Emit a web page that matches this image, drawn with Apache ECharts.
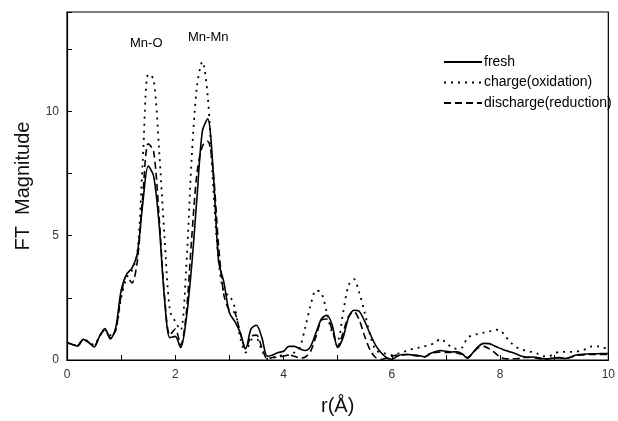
<!DOCTYPE html>
<html>
<head>
<meta charset="utf-8">
<script src="https://cdn.jsdelivr.net/npm/echarts@6/dist/echarts.min.js"></script>
<style>
html,body{margin:0;padding:0;background:#fff;}
#chart{width:618px;height:421px;}
</style>
</head>
<body>
<div id="chart"></div>
<script>
// r (Å) sample positions
var rValues = [0.0,0.1,0.2,0.3,0.4,0.5,0.6,0.7,0.8,0.9,
  1.0,1.1,1.2,1.3,1.4,1.5,1.6,1.7,1.8,1.9,
  2.0,2.1,2.2,2.3,2.4,2.5,2.6,2.7,2.8,2.9,
  3.0,3.1,3.2,3.3,3.4,3.5,3.6,3.7,3.8,3.9,
  4.0,4.1,4.2,4.3,4.4,4.5,4.6,4.7,4.8,4.9,
  5.0,5.1,5.2,5.3,5.4,5.5,5.6,5.7,5.8,5.9,
  6.0,6.1,6.2,6.3,6.4,6.5,6.6,6.7,6.8,6.9,
  7.0,7.1,7.2,7.3,7.4,7.5,7.6,7.7,7.8,7.9,
  8.0,8.1,8.2,8.3,8.4,8.5,8.6,8.7,8.8,8.9,
  9.0,9.1,9.2,9.3,9.4,9.5,9.6,9.7,9.8,9.9,10.0];

var fresh = [0.71,0.62,0.56,0.83,0.72,0.52,0.95,1.27,0.85,1.3,
  2.8,3.45,3.7,4.3,6.3,7.8,7.4,5.5,2.5,0.9,
  0.95,0.5,1.6,3.7,6.5,9.2,9.7,7.6,4.0,3.1,
  1.9,1.55,1.1,0.45,1.25,1.4,0.9,0.15,0.2,0.3,
  0.35,0.55,0.55,0.45,0.38,0.55,1.1,1.65,1.8,1.4,
  0.5,0.9,1.7,2.0,1.95,1.55,1.05,0.6,0.3,0.1,
  0.03,0.15,0.22,0.22,0.2,0.18,0.13,0.25,0.33,0.38,
  0.35,0.32,0.33,0.25,0.07,0.3,0.55,0.67,0.66,0.56,
  0.47,0.38,0.32,0.24,0.15,0.1,0.12,0.1,0.05,0.05,
  0.08,0.1,0.06,0.12,0.2,0.22,0.24,0.25,0.25,0.26,0.26];

var charge = [0.7,0.6,0.62,0.8,0.75,0.6,0.95,1.2,1.0,1.2,
  2.5,3.3,3.6,4.3,8.0,11.5,11.3,8.5,5.0,2.0,
  1.55,1.2,3.6,8.0,11.0,12.0,10.6,7.0,4.0,2.7,
  2.6,2.1,0.9,0.3,0.8,0.85,0.4,0.05,0.1,0.15,
  0.2,0.2,0.3,0.5,1.3,2.2,2.8,2.7,1.9,1.1,
  0.8,1.9,3.0,3.25,2.7,1.9,1.0,0.4,0.3,0.25,
  0.2,0.25,0.3,0.4,0.45,0.5,0.55,0.6,0.7,0.85,
  0.7,0.52,0.45,0.5,0.9,1.0,1.05,1.1,1.15,1.22,
  1.2,0.95,0.7,0.52,0.42,0.36,0.32,0.25,0.15,0.15,
  0.25,0.33,0.33,0.33,0.33,0.38,0.45,0.55,0.55,0.5,0.45];

var discharge = [0.7,0.62,0.6,0.82,0.7,0.55,0.95,1.2,0.9,1.2,
  2.6,3.4,3.1,4.0,6.6,8.7,8.4,5.8,2.6,1.0,
  1.25,0.6,1.8,4.8,7.5,8.6,8.8,7.6,4.6,2.6,
  2.0,1.9,1.1,0.45,0.95,1.0,0.5,0.05,0.1,0.12,
  0.15,0.2,0.15,0.08,0.12,0.35,0.95,1.6,1.65,1.2,
  0.55,1.1,1.75,1.95,1.6,0.95,0.4,0.1,0.02,0.08,
  0.15,0.2,0.2,0.22,0.18,0.15,0.12,0.22,0.3,0.32,
  0.3,0.3,0.28,0.22,0.1,0.3,0.5,0.55,0.45,0.3,
  0.12,0.05,0.05,0.05,0.08,0.12,0.1,0.06,0.03,0.05,
  0.08,0.08,0.06,0.1,0.18,0.2,0.22,0.22,0.22,0.22,0.22];

var seriesNames = ['fresh', 'charge(oxidation)', 'discharge(reduction)'];
var xTickLabels = ['0','2','4','6','8','10'];
var yTickLabels = ['0','5','10'];

function pairs(ys){ return rValues.map(function(x,i){ return [x, ys[i]]; }); }

var font = '"Liberation Sans", Arial, Helvetica, sans-serif';
var chart = echarts.init(document.getElementById('chart'), null, {renderer:'canvas'});
chart.setOption({
  animation: false,
  backgroundColor: '#fff',
  grid: { left: 67, right: 2, top: 12, bottom: 51, show: true, borderColor: '#000', borderWidth: 1.2 },
  xAxis: {
    type: 'value', min: 0, max: 10, interval: 1,
    name: 'r(Å)', nameLocation: 'middle', nameGap: 36,
    nameTextStyle: { fontFamily: font, fontSize: 20, color: '#111' },
    axisLine: { show: true, lineStyle: { color: '#000', width: 1.2 } },
    axisTick: { show: true, inside: true, length: 5, lineStyle: { color: '#000' } },
    axisLabel: { fontFamily: font, fontSize: 12, color: '#333', margin: 9,
      formatter: function(v){ var s = String(Math.round(v)); return xTickLabels.indexOf(s) >= 0 && Math.abs(v - Math.round(v)) < 1e-9 ? s : ''; } },
    splitLine: { show: false }
  },
  yAxis: {
    type: 'value', min: 0, max: 14, interval: 2.5,
    name: 'FT  Magnitude', nameLocation: 'middle', nameGap: 34,
    nameTextStyle: { fontFamily: font, fontSize: 20, color: '#111' },
    axisLine: { show: true, lineStyle: { color: '#000', width: 1.2 } },
    axisTick: { show: true, inside: true, length: 5, lineStyle: { color: '#000' } },
    axisLabel: { fontFamily: font, fontSize: 12, color: '#333', margin: 8,
      formatter: function(v){ var s = String(v); return yTickLabels.indexOf(s) >= 0 ? s : ''; } },
    splitLine: { show: false }
  },
  legend: {
    orient: 'vertical', left: 443, top: 55, padding: 0, itemWidth: 38, itemHeight: 12, itemGap: 6.5,
    itemStyle: { opacity: 0 },
    textStyle: { fontFamily: font, fontSize: 14, color: '#000', padding: [0,0,0,-3] },
    data: seriesNames
  },
  graphic: [
    { type: 'text', left: 130, top: 37, style: { text: 'Mn-O', font: '13px ' + font, fill: '#000' } },
    { type: 'text', left: 188, top: 31, style: { text: 'Mn-Mn', font: '13px ' + font, fill: '#000' } }
  ],
  series: [
    { name: seriesNames[0], type: 'line', data: pairs(fresh), smooth: 0.3, showSymbol: false, symbol: 'none',
      lineStyle: { color: '#000', width: 1.6, type: 'solid' }, itemStyle: { color: '#000' } },
    { name: seriesNames[1], type: 'line', data: pairs(charge), smooth: 0.3, showSymbol: false, symbol: 'none',
      lineStyle: { color: '#000', width: 1.8, type: [2, 5] }, itemStyle: { color: '#000' } },
    { name: seriesNames[2], type: 'line', data: pairs(discharge), smooth: 0.3, showSymbol: false, symbol: 'none',
      lineStyle: { color: '#000', width: 1.6, type: [7, 4] }, itemStyle: { color: '#000' } }
  ]
});
</script>
</body>
</html>
